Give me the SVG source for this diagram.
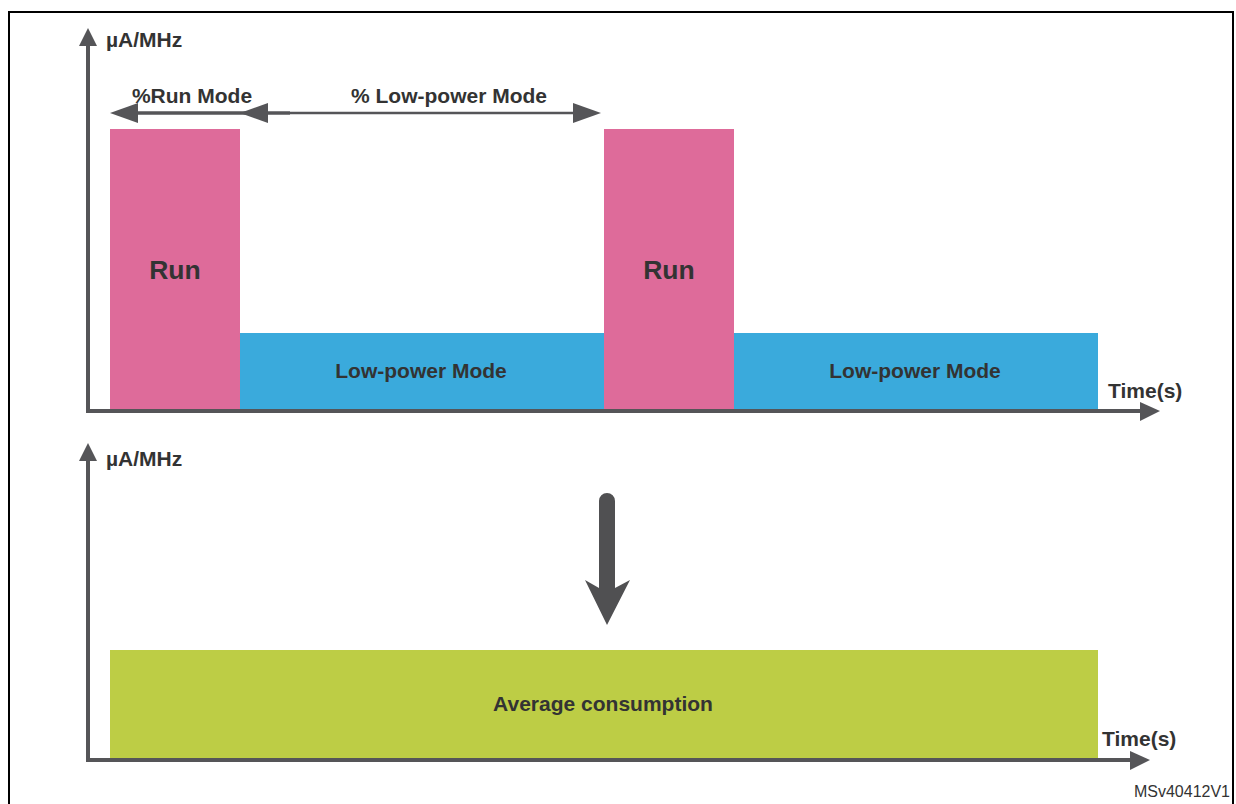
<svg xmlns="http://www.w3.org/2000/svg" width="1236" height="804" viewBox="0 0 1236 804">
<style>
.lbl{font-family:"Liberation Sans",Arial,sans-serif;font-weight:bold;fill:#333333;}
.axis{stroke:#555558;stroke-width:4;fill:none;}
.head{fill:#555558;}
.run{fill:#DE6B9A;}
.lp{fill:#3AAADC;}
</style>
<rect width="1236" height="804" fill="#ffffff"/>
<rect x="9" y="12" width="1224" height="810" fill="none" stroke="#000000" stroke-width="2"/>

<g id="run1"><rect class="run" x="110" y="129" width="130" height="282"/><text class="lbl" x="175" y="279" font-size="26.5" text-anchor="middle">Run</text></g>
<g id="lp1"><rect class="lp" x="240" y="333" width="364" height="78"/><text class="lbl" x="421" y="378" font-size="21" text-anchor="middle">Low-power Mode</text></g>
<g id="run2"><rect class="run" x="604" y="129" width="130" height="282"/><text class="lbl" x="669" y="279" font-size="26.5" text-anchor="middle">Run</text></g>
<g id="lp2"><rect class="lp" x="734" y="333" width="364" height="78"/><text class="lbl" x="915" y="378" font-size="21" text-anchor="middle">Low-power Mode</text></g>
<g id="avg"><rect x="110" y="650" width="988" height="110" fill="#BDCD45"/><text class="lbl" x="603" y="711" font-size="21" text-anchor="middle">Average consumption</text></g>

<g id="connectors">
  <path class="axis" d="M88,44 L88,411 L1142,411"/>
  <path class="head" d="M88,28 L97,46 L79,46 Z"/>
  <path class="head" d="M1160,411 L1140,402 L1140,421 Z"/>
  <path class="axis" d="M88,459 L88,760 L1132,760"/>
  <path class="head" d="M88,443 L97,461 L79,461 Z"/>
  <path class="head" d="M1150,760 L1130,751 L1130,770 Z"/>
  <line x1="128" y1="113" x2="290" y2="113" stroke="#555558" stroke-width="3.5"/>
  <line x1="290" y1="113" x2="582" y2="113" stroke="#555558" stroke-width="2.5"/>
  <path class="head" d="M110,113 L138,103 L138,123 Z"/>
  <path class="head" d="M240,113 L268,103 L268,123 Z"/>
  <path class="head" d="M601,113 L573,103 L573,123 Z"/>
  <path fill="#505052" d="M599,501 A8,8 0 0 1 615,501 L615,588 L630,580 L607,625 L585,580 L599,588 Z"/>
</g>

<g id="labels">
  <text class="lbl" x="106" y="47" font-size="21">µA/MHz</text>
  <text class="lbl" x="106" y="466" font-size="21">µA/MHz</text>
  <text class="lbl" x="192" y="103" font-size="21" text-anchor="middle">%Run Mode</text>
  <text class="lbl" x="449" y="103" font-size="21" text-anchor="middle">% Low-power Mode</text>
  <text class="lbl" x="1108" y="398" font-size="21">Time(s)</text>
  <text class="lbl" x="1102" y="746" font-size="21">Time(s)</text>
  <text x="1230" y="797" font-size="16" text-anchor="end" fill="#333333" font-family="'Liberation Sans',Arial,sans-serif">MSv40412V1</text>
</g>
</svg>
